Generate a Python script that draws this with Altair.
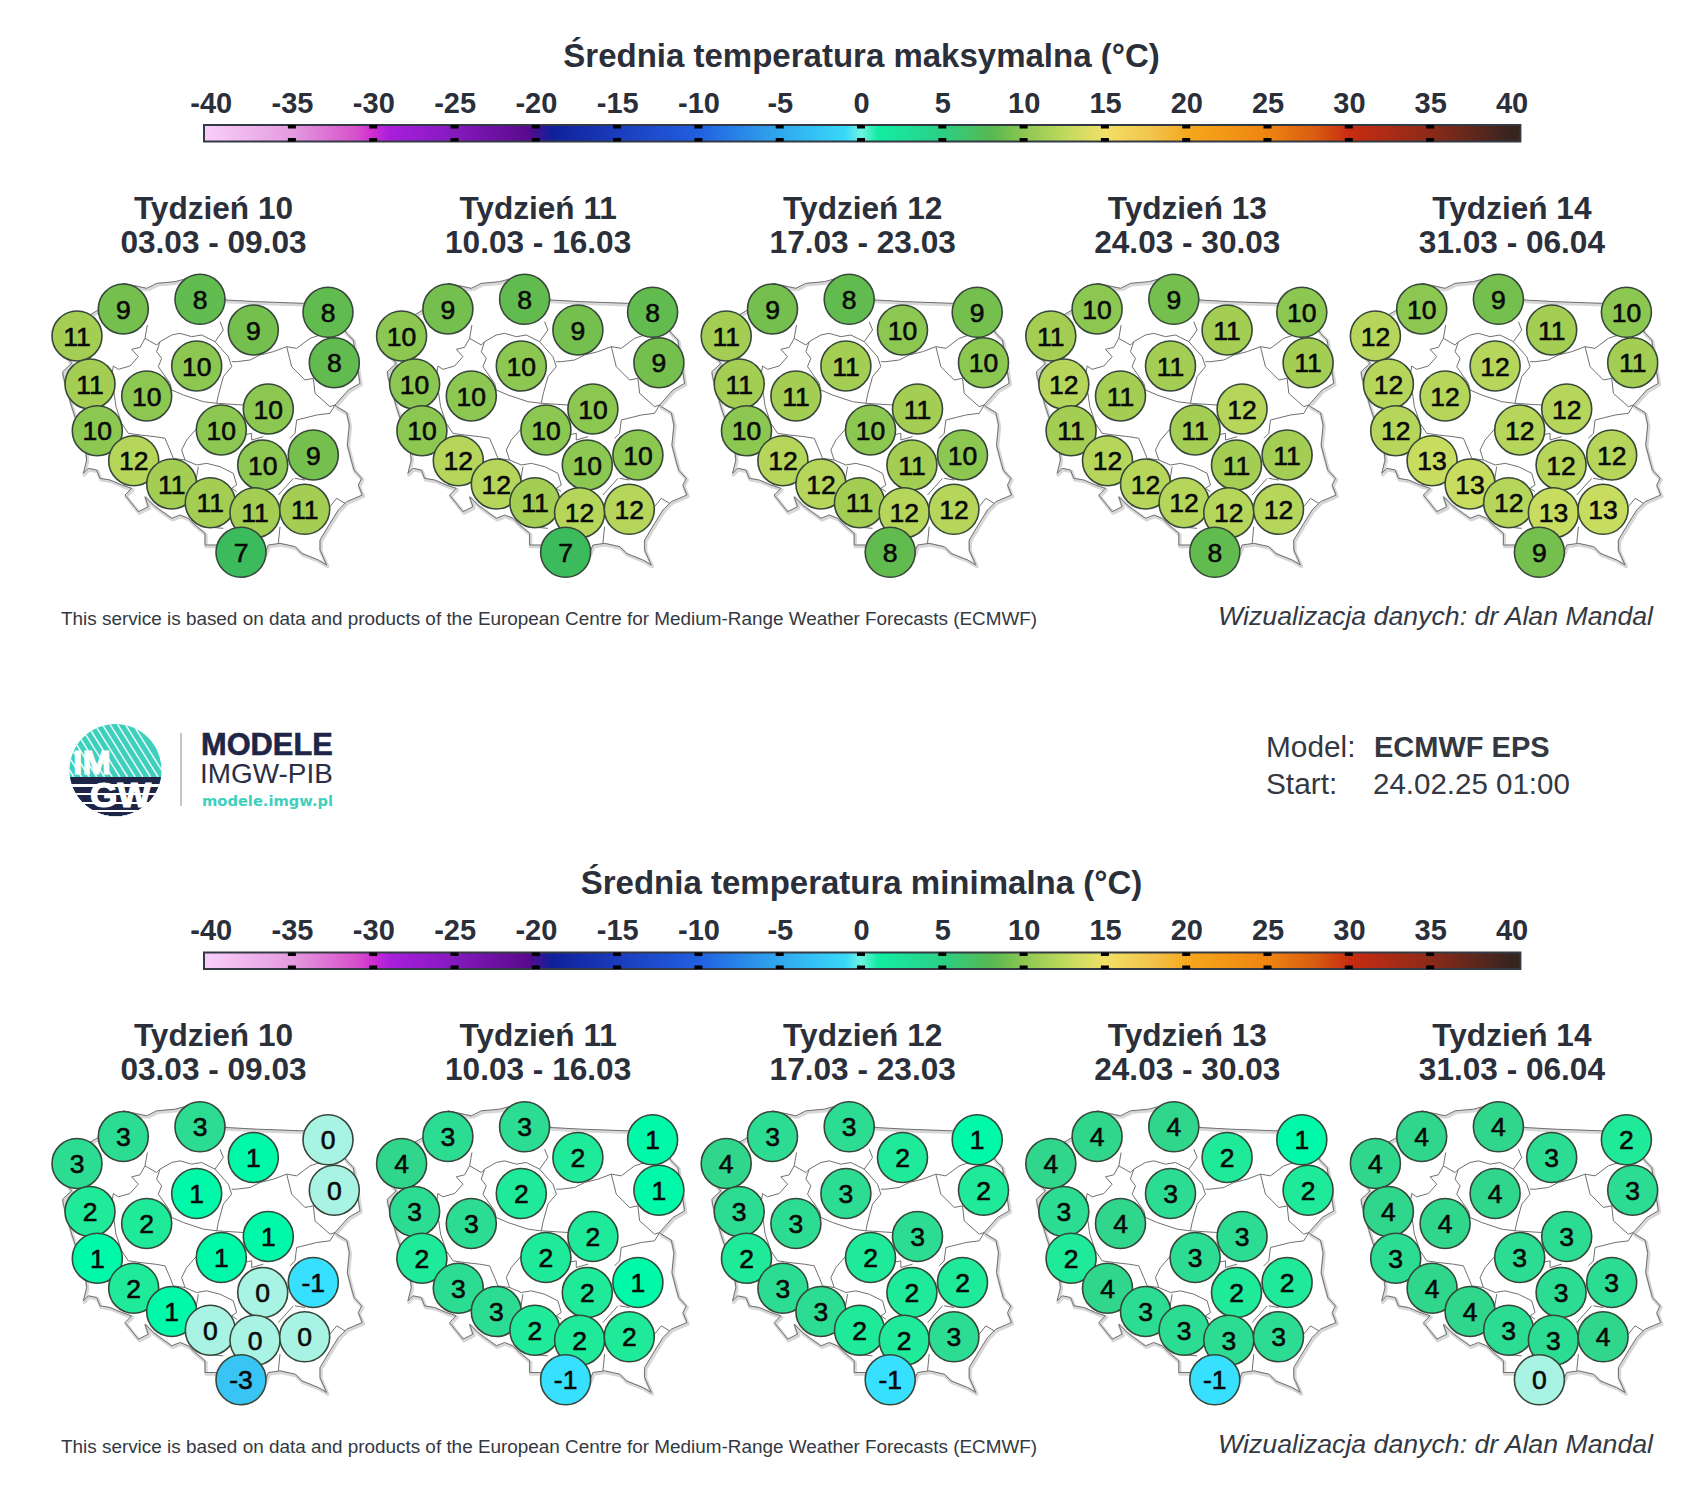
import math
import altair as alt
import pandas as pd

# ---------- values ----------
WEEKS = ["Tydzień 10", "Tydzień 11", "Tydzień 12", "Tydzień 13", "Tydzień 14"]
DATES = ["03.03 - 09.03", "10.03 - 16.03", "17.03 - 23.03", "24.03 - 30.03", "31.03 - 06.04"]
COLORBAR_LABELS = list(range(-40, 41, 5))

# station order: position in the map, drawing order as in the picture
STATION_X = [123.3, 200, 328, 77, 253.3, 334.3, 196.7, 90, 146.7, 268.3, 97.3, 221.3, 313.3, 133.7, 262.7, 171.7, 210.3, 255, 304.7, 241]
STATION_Y = [309, 299.3, 312.3, 336, 330, 362.7, 366, 384, 396, 409, 430.7, 430, 455, 460.7, 465, 484, 502.7, 512.7, 509.3, 552.3]

TMAX = [
    [9, 8, 8, 11, 9, 8, 10, 11, 10, 10, 10, 10, 9, 12, 10, 11, 11, 11, 11, 7],
    [9, 8, 8, 10, 9, 9, 10, 10, 10, 10, 10, 10, 10, 12, 10, 12, 11, 12, 12, 7],
    [9, 8, 9, 11, 10, 10, 11, 11, 11, 11, 10, 10, 10, 12, 11, 12, 11, 12, 12, 8],
    [10, 9, 10, 11, 11, 11, 11, 12, 11, 12, 11, 11, 11, 12, 11, 12, 12, 12, 12, 8],
    [10, 9, 10, 12, 11, 11, 12, 12, 12, 12, 12, 12, 12, 13, 12, 13, 12, 13, 13, 9],
]
TMIN = [
    [3, 3, 0, 3, 1, 0, 1, 2, 2, 1, 1, 1, -1, 2, 0, 1, 0, 0, 0, -3],
    [3, 3, 1, 4, 2, 1, 2, 3, 3, 2, 2, 2, 1, 3, 2, 3, 2, 2, 2, -1],
    [3, 3, 1, 4, 2, 2, 3, 3, 3, 3, 2, 2, 2, 3, 2, 3, 2, 2, 3, -1],
    [4, 4, 1, 4, 2, 2, 3, 3, 4, 3, 2, 3, 2, 4, 2, 3, 3, 3, 3, -1],
    [4, 4, 2, 4, 3, 3, 4, 4, 4, 3, 3, 3, 3, 4, 3, 4, 3, 3, 4, 0],
]
VALUE_STOPS = [-3, -2, -1, -0.01, 0, 0.01, 1, 2, 3, 4, 7, 8, 9, 10, 11, 12, 13]
VALUE_COLORS = ["#38c4f4", "#38d2fa", "#38e0ff", "#38e0ff", "#a8f3e4", "#00f9a8", "#00f9a8", "#1eea9a", "#2cdc92", "#2fd68c",
                "#3cbb5c", "#62bb4f", "#74bf4d", "#8cc751", "#a3cd53", "#b5d65a", "#c8dd60"]

GRADIENT_T = [-40, -35, -31, -30, -29, -25, -20.5, -19, -15, -10, -5, -1, 0, 1, 5, 8, 10, 13, 15, 18, 20, 25, 28, 30, 35, 40]
GRADIENT_C = ["#f8ccf8", "#e49bdf", "#d650cc", "#cf2cd2", "#a81fdc", "#8419bd", "#5a0a8c", "#10209a", "#1a3cbc", "#2060e0", "#30a8ee",
              "#38d8fa", "#6ef3e0", "#12eda4", "#2bcf84", "#58b850", "#8cc751", "#c9dc60", "#f2e066", "#f2c24a", "#f6a81c", "#ee8410",
              "#d85a10", "#c82c10", "#8c2a1a", "#36241f"]

# outline and inner borders of the map, in its own units (3 per pixel)
OUTLINE = [(350, 85), (380, 70), (435, 65), (510, 45), (588, 120), (680, 125), (820, 130), (895, 140), (950, 220), (970, 240),
           (990, 370), (955, 390), (915, 435), (920, 440), (950, 458), (958, 495), (952, 555), (965, 605), (972, 630), (995, 655),
           (985, 675), (997, 705), (950, 725), (925, 750), (900, 790), (870, 840), (870, 870), (890, 915), (865, 900), (815, 880),
           (795, 860), (750, 850), (715, 855), (705, 880), (640, 930), (600, 890), (560, 855), (525, 855), (525, 820), (495, 795),
           (475, 775), (450, 765), (425, 775), (390, 750), (370, 735), (345, 710), (355, 740), (325, 755), (285, 705), (305, 685),
           (275, 675), (240, 660), (210, 655), (200, 630), (175, 625), (160, 640), (170, 600), (165, 560), (125, 440), (100, 350),
           (98, 335), (125, 310), (100, 280), (75, 225), (205, 150), (280, 70)]
BORDERS = [
    [(352, 195), (345, 235), (330, 262), (305, 268), (325, 290), (300, 318), (265, 328), (250, 318), (245, 350), (258, 440), (275, 490), (295, 520), (330, 525), (375, 530), (405, 535), (420, 570), (430, 595)],
    [(345, 235), (380, 255), (390, 245), (425, 225), (450, 220), (485, 230), (515, 225), (555, 245), (580, 210), (570, 185)],
    [(390, 245), (380, 275), (395, 295), (385, 320), (420, 370), (425, 390), (460, 405), (520, 425), (560, 430), (565, 405), (580, 350), (605, 320), (595, 290), (555, 245)],
    [(605, 305), (620, 305), (660, 300), (690, 285), (730, 275), (770, 260), (800, 265), (840, 235), (870, 225)],
    [(770, 260), (785, 320), (825, 360), (850, 355), (855, 400), (900, 440), (915, 435)],
    [(915, 435), (900, 460), (860, 465), (800, 480), (795, 520), (780, 535)],
    [(560, 430), (640, 435)],
    [(505, 500), (470, 540), (455, 570), (465, 600), (500, 615), (530, 610), (570, 620), (610, 640), (620, 675), (605, 685), (620, 695)],
    [(640, 525), (665, 520), (665, 540), (700, 530)],
    [(795, 655), (825, 660)],
    [(790, 655), (745, 705)],
    [(505, 620), (495, 680)],
    [(430, 595), (465, 600)],
    [(750, 800), (745, 850)],
    [(900, 740), (920, 715), (945, 730)],
    [(520, 800), (580, 805)],
]

# ---------- tables ----------
PANEL_STEP = 324.6
ROW_STEP = 827.5
MAP_X0, MAP_Y0 = 30, 260


def map_rows():
    rows = []
    for r in range(2):
        for p in range(5):
            dx, dy = p * PANEL_STEP, r * ROW_STEP
            for i, (mx, my) in enumerate(OUTLINE + OUTLINE[:1]):
                rows.append(dict(g=f"o{r}{p}", o=i, kind="outline", x=MAP_X0 + mx / 3 + dx, y=MAP_Y0 + my / 3 + dy))
            for b, line in enumerate(BORDERS):
                for i, (mx, my) in enumerate(line):
                    rows.append(dict(g=f"b{r}{p}{b}", o=i, kind="border", x=MAP_X0 + mx / 3 + dx, y=MAP_Y0 + my / 3 + dy))
    return pd.DataFrame(rows)


def station_rows():
    rows = []
    k = 0
    for r, table in enumerate([TMAX, TMIN]):
        for p, week in enumerate(table):
            for i, v in enumerate(week):
                rows.append(dict(k=k, x=STATION_X[i] + p * PANEL_STEP, y=STATION_Y[i] + r * ROW_STEP, v=v, t=str(v)))
                k += 1
    return pd.DataFrame(rows)


X = alt.X("x:Q", scale=alt.Scale(domain=[8, 1688]), axis=None)
Y = alt.Y("y:Q", scale=alt.Scale(domain=[1488, 8]), axis=None)
FONT = "Liberation Sans"
DARK = "#2b2f3a"


def text_layer(rows, size, bold=False, align="center", color=DARK, italic=False, font=FONT, heavy=0):
    kw = dict(font=font, fontSize=size, align=align, baseline="alphabetic", color=color,
              fontWeight="bold" if bold else "normal")
    if italic:
        kw["fontStyle"] = "italic"
    if heavy:
        kw["stroke"] = color
        kw["strokeWidth"] = heavy
    return alt.Chart(pd.DataFrame(rows)).mark_text(**kw).encode(x=X, y=Y, text="t:N")


layers = []

# map
maps = map_rows()
mo = maps[maps.kind == "outline"]
layers.append(alt.Chart(mo.assign(x=mo.x + 1, y=mo.y + 1.5)).mark_line(color="#bdbdbd", strokeWidth=3.5, opacity=0.6, strokeJoin="round").encode(x=X, y=Y, detail="g:N", order="o:Q"))
layers.append(alt.Chart(maps).mark_line(color="#707070", strokeWidth=1, strokeJoin="round").encode(x=X, y=Y, detail="g:N", order="o:Q"))

# colour bars
BAR_L, BAR_R = 204.0, 1520.4
T0, T1 = -40.4, 40.5
stops = [alt.GradientStop(offset=(t - T0) / (T1 - T0), color=c) for t, c in zip(GRADIENT_T, GRADIENT_C)]
grad = alt.Gradient(gradient="linear", x1=0, x2=1, y1=0, y2=0, stops=stops)
ZERO_X = 861.0
DEG = 16.26
bar_rows, tick_rows, label_rows = [], [], []
titles = ["Średnia temperatura maksymalna (°C)", "Średnia temperatura minimalna (°C)"]
title_rows, week_rows, date_rows, note_rows, wiz_rows = [], [], [], [], []
for r in range(2):
    dy = r * ROW_STEP
    bar_rows.append(dict(x=BAR_L, x2=BAR_R, y=125 + dy, y2=141.5 + dy))
    for t in COLORBAR_LABELS:
        label_rows.append(dict(x=ZERO_X + t * DEG + 0.6, y=113 + dy - r, t=str(t)))
        if abs(t) < 40:
            tick_rows.append(dict(x=ZERO_X + t * DEG, y=125 + dy, y2=128.5 + dy))
            tick_rows.append(dict(x=ZERO_X + t * DEG, y=138 + dy, y2=141.5 + dy))
    title_rows.append(dict(x=861.5, y=67 + dy - r, t=titles[r]))
    for p in range(5):
        week_rows.append(dict(x=213.5 + p * PANEL_STEP, y=218.5 + dy, t=WEEKS[p]))
        date_rows.append(dict(x=213.5 + p * PANEL_STEP, y=252.5 + dy, t=DATES[p]))
    note_rows.append(dict(x=61, y=625 + dy, t="This service is based on data and products of the European Centre for Medium-Range Weather Forecasts (ECMWF)"))
    wiz_rows.append(dict(x=1653, y=625 + dy, t="Wizualizacja danych: dr Alan Mandal"))

layers.append(alt.Chart(pd.DataFrame(bar_rows)).mark_rect(fill=grad, stroke="#333a44", strokeWidth=2).encode(x=X, x2="x2:Q", y=Y, y2="y2:Q"))
layers.append(alt.Chart(pd.DataFrame(tick_rows)).mark_rule(color="#000000", strokeWidth=8).encode(x=X, y=Y, y2="y2:Q"))
layers.append(text_layer(label_rows, 29, bold=True))
layers.append(text_layer(title_rows, 33, bold=True))
layers.append(text_layer(week_rows, 31.6, bold=True))
layers.append(text_layer(date_rows, 31.6, bold=True))
layers.append(text_layer(note_rows, 18.9, align="left", color="#333842"))
layers.append(text_layer(wiz_rows, 26.7, align="right", color="#333842", italic=True))

# station circles
st = station_rows()
color = alt.Color("v:Q", scale=alt.Scale(domain=VALUE_STOPS, range=VALUE_COLORS), legend=None)
layers.append(alt.Chart(st).mark_point(filled=True, shape="circle", size=2500, stroke="#37473a", strokeWidth=1.6, opacity=1, fillOpacity=1).encode(x=X, y=Y, color=color, order="k:Q"))
layers.append(alt.Chart(st.assign(y=st.y + 9.5)).mark_text(font=FONT, fontSize=26.5, align="center", baseline="alphabetic", color="#0a0a0a", stroke="#0a0a0a", strokeWidth=0.6).encode(x=X, y=Y, text="t:N"))

# logo
CX, CY, R = 115.5, 770.0, 46.0
SPLIT = 777.0
TEAL, NAVY = "#3fd0bd", "#1e2547"
layers.append(alt.Chart(pd.DataFrame([dict(x=CX, y=CY)])).mark_point(filled=True, shape="circle", size=(2 * R) ** 2, color=TEAL, opacity=1).encode(x=X, y=Y))

hatch = []
for off in [-39, -32.5, -26, -19.5, -13, -6.5, 0, 6.5, 13, 19.5, 26, 32.5, 39]:
    ux, uy = 1 / math.hypot(1, 1.6), 1.6 / math.hypot(1, 1.6)
    px, py = off * uy, -off * ux
    half = math.sqrt(max(R * R - off * off, 0))
    a = (CX + px - ux * half, CY + py - uy * half)
    b = (CX + px + ux * half, CY + py + uy * half)
    if b[1] > SPLIT:
        f = (SPLIT - a[1]) / (b[1] - a[1])
        b = (a[0] + (b[0] - a[0]) * f, SPLIT)
    if a[1] < SPLIT:
        hatch.append(dict(x=a[0], y=a[1], x2=b[0], y2=b[1]))
layers.append(alt.Chart(pd.DataFrame(hatch)).mark_rule(color="#ffffff", strokeWidth=1.5, opacity=0.9).encode(x=X, y=Y, x2="x2:Q", y2="y2:Q"))

# lower part of the logo: navy bands with white gaps, as one-pixel strips
NAVY_BANDS = [(777, 784.3), (786.7, 793.3), (795, 802.3), (804.3, 810), (812, 817)]
strips = []
yb = 777.5
while yb < 816.5:
    navy = any(lo <= yb <= hi for lo, hi in NAVY_BANDS)
    half = math.sqrt(max(R * R - (yb - CY) ** 2, 0))
    strips.append(dict(x=CX - half, x2=CX + half, y=yb, c=NAVY if navy else "#ffffff"))
    yb += 1
layers.append(alt.Chart(pd.DataFrame(strips)).mark_rule(strokeWidth=1.2).encode(x=X, y=Y, x2="x2:Q", color=alt.Color("c:N", scale=None)))

layers.append(text_layer([dict(x=73, y=774, t="IM")], 34, bold=True, align="left", color="#ffffff", heavy=1))
layers.append(text_layer([dict(x=120.5, y=807, t="GW")], 35.5, bold=True, color="#ffffff", heavy=1.2))
layers.append(alt.Chart(pd.DataFrame([dict(x=181, y=733, y2=806)])).mark_rule(color="#a8a8a8", strokeWidth=1.3).encode(x=X, y=Y, y2="y2:Q"))
layers.append(text_layer([dict(x=201, y=755, t="MODELE")], 30.8, bold=True, align="left", color=NAVY, heavy=0.6))
layers.append(text_layer([dict(x=200, y=783, t="IMGW-PIB")], 27.9, align="left", color="#2a2f45"))
layers.append(text_layer([dict(x=202, y=806, t="modele.imgw.pl")], 14.7, bold=True, align="left", color=TEAL, font="DejaVu Sans"))

# model info
layers.append(text_layer([dict(x=1266, y=757, t="Model:"), dict(x=1266, y=793.5, t="Start:")], 29.8, align="left", color="#333842"))
layers.append(text_layer([dict(x=1374, y=757, t="ECMWF EPS")], 29, bold=True, align="left", color="#333842"))
layers.append(text_layer([dict(x=1373, y=793.5, t="24.02.25 01:00")], 29.5, align="left", color="#333842"))

chart = alt.layer(*layers).properties(
    width=1680, height=1480, padding=0, background="#ffffff",
    autosize=alt.AutoSizeParams(type="none"),
).configure_view(stroke=None)

chart.save("out.html", embed_options={"renderer": "svg", "actions": False})
